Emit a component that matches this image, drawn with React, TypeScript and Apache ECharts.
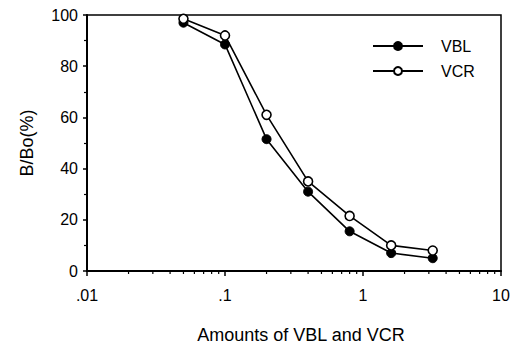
import React, { useEffect, useRef } from "react";
import * as echarts from "echarts";

const doses = [0.05, 0.1, 0.2, 0.4, 0.8, 1.6, 3.2];
const vblValues = [97, 88.5, 51.5, 31, 15.5, 7, 5];
const vcrValues = [98.5, 92, 61, 35, 21.5, 10, 8];
const xTickLabels = [".01", ".1", "1", "10"];
const xMinorTicks = [
  0.02, 0.03, 0.04, 0.05, 0.06, 0.07, 0.08, 0.09,
  0.2, 0.3, 0.4, 0.5, 0.6, 0.7, 0.8, 0.9,
  2, 3, 4, 5, 6, 7, 8, 9,
];

const FONT = '"Liberation Sans", Arial, Helvetica, sans-serif';

export default function App() {
  const ref = useRef<HTMLDivElement>(null);
  useEffect(() => {
    if (!ref.current) return;
    const chart = echarts.init(ref.current, undefined, { renderer: "svg" });
    chart.setOption({
      animation: false,
      backgroundColor: "#fff",
      textStyle: { fontFamily: FONT, color: "#000" },
      grid: {
        left: 87,
        right: 15,
        top: 15,
        bottom: 71,
        show: true,
        borderColor: "#000",
        borderWidth: 1.5,
        backgroundColor: "transparent",
      },
      legend: {
        data: ["VBL", "VCR"],
        orient: "vertical",
        left: 367,
        top: 33,
        itemWidth: 50,
        itemHeight: 10,
        itemGap: 9,
        textStyle: { fontFamily: FONT, fontSize: 16, color: "#000", padding: [0, 0, 0, 13] },
      },
      xAxis: {
        type: "log",
        logBase: 10,
        min: 0.01,
        max: 10,
        name: "Amounts of VBL and VCR",
        nameLocation: "middle",
        nameGap: 55,
        nameTextStyle: { fontFamily: FONT, fontSize: 18, color: "#000", padding: [0, 0, 0, 14] },
        axisLine: { show: true, lineStyle: { color: "#000", width: 2 } },
        axisTick: { show: true, inside: false, length: 5, lineStyle: { color: "#000", width: 1.5 } },
        axisLabel: {
          fontFamily: FONT,
          fontSize: 16,
          color: "#000",
          margin: 16,
          formatter: (v: number) => xTickLabels[Math.round(Math.log10(v)) + 2] ?? "",
        },
        splitLine: { show: false },
      },
      yAxis: {
        type: "value",
        min: 0,
        max: 100,
        interval: 20,
        name: "B/Bo(%)",
        nameLocation: "middle",
        nameGap: 51,
        nameTextStyle: { fontFamily: FONT, fontSize: 18, color: "#000" },
        axisLine: { show: true, lineStyle: { color: "#000", width: 2 } },
        axisTick: { show: true, inside: false, length: 4, lineStyle: { color: "#000", width: 1.5 } },
        minorTick: { show: true, splitNumber: 2, length: 3, lineStyle: { color: "#000", width: 1.2 } },
        axisLabel: { fontFamily: FONT, fontSize: 16, color: "#000", margin: 9 },
        splitLine: { show: false },
        minorSplitLine: { show: false },
      },
      series: [
        {
          name: "VBL",
          type: "line",
          data: doses.map((d, i) => [d, vblValues[i]]),
          symbol: "circle",
          symbolSize: 9,
          showSymbol: true,
          lineStyle: { color: "#000", width: 1.6 },
          itemStyle: { color: "#000", borderColor: "#000", borderWidth: 1 },
          z: 3,
        },
        {
          name: "VCR",
          type: "line",
          data: doses.map((d, i) => [d, vcrValues[i]]),
          symbol: "circle",
          symbolSize: 9,
          showSymbol: true,
          lineStyle: { color: "#000", width: 1.6 },
          itemStyle: { color: "#fff", borderColor: "#000", borderWidth: 1.6 },
          z: 4,
        },
        {
          name: "minorTicks",
          type: "custom",
          silent: true,
          data: xMinorTicks.map((v) => [v, 0]),
          renderItem: (_params: any, api: any) => {
            const p = api.coord([api.value(0), 0]);
            return {
              type: "line",
              shape: { x1: p[0], y1: p[1], x2: p[0], y2: p[1] + 3 },
              style: { stroke: "#000", lineWidth: 1.2 },
            };
          },
          z: 5,
        },
      ],
    });
    return () => chart.dispose();
  }, []);
  return (
    <div
      ref={ref}
      style={{ position: "fixed", left: 0, top: 0, width: 516, height: 349, background: "#fff" }}
    />
  );
}
